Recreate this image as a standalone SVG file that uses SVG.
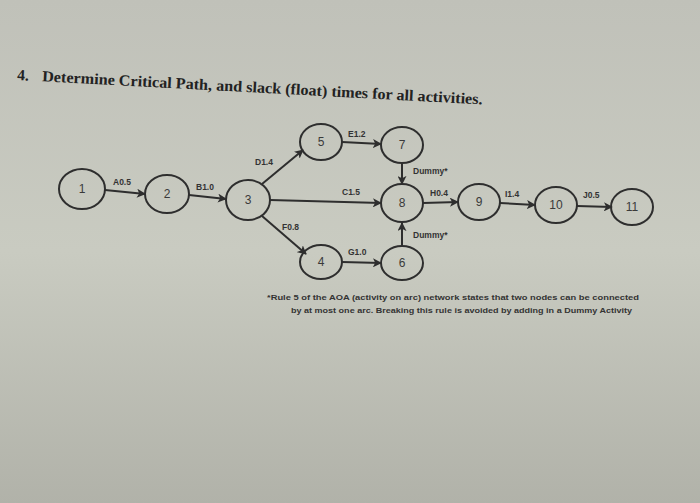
<svg xmlns="http://www.w3.org/2000/svg" width="700" height="503" viewBox="0 0 700 503">
<defs>
<linearGradient id="bg" x1="0" y1="0" x2="0" y2="1">
<stop offset="0" stop-color="#c0c1b9"/>
<stop offset="0.5" stop-color="#c9cbc1"/>
<stop offset="1" stop-color="#b1b2a9"/>
</linearGradient>
<marker id="arr" viewBox="0 0 10 10" refX="9" refY="5" markerWidth="4.5" markerHeight="4.5" orient="auto" markerUnits="strokeWidth">
<path d="M0,0 L10,5 L0,10 L2.5,5 Z" fill="#2e2e2e"/>
</marker>
<style>
.node ellipse{fill:none;stroke:#2e2e2e;stroke-width:2}
.node text{font-family:"Liberation Sans",Arial,sans-serif;font-size:12px;fill:#3a3a3a;text-anchor:middle}
.edge{stroke:#2e2e2e;stroke-width:2;fill:none;marker-end:url(#arr)}
.lbl{font-family:"Liberation Sans",Arial,sans-serif;font-size:8.5px;font-weight:bold;fill:#333}
.title{font-family:"Liberation Serif","Times New Roman",serif;font-size:15.5px;font-weight:bold;fill:#222}
.note{font-family:"Liberation Sans",Arial,sans-serif;font-size:7.5px;font-weight:bold;fill:#333}
</style>
</defs>
<rect width="700" height="503" fill="url(#bg)"/>
<g id="title" transform="rotate(3 17 80)">
<text class="title" x="17" y="80">4.</text>
<text class="title" x="42" y="80" textLength="441" lengthAdjust="spacingAndGlyphs">Determine Critical Path, and slack (float) times for all activities.</text>
</g>
<g id="connectors">
<line class="edge" x1="105" y1="190" x2="145" y2="194"/>
<line class="edge" x1="189" y1="195" x2="226" y2="199"/>
<line class="edge" x1="262" y1="184" x2="303" y2="150"/>
<line class="edge" x1="342" y1="142" x2="381" y2="144"/>
<line class="edge" x1="270" y1="200" x2="381" y2="203"/>
<line class="edge" x1="402" y1="164" x2="402" y2="184"/>
<line class="edge" x1="402" y1="245" x2="402" y2="223"/>
<line class="edge" x1="423" y1="203" x2="458" y2="202"/>
<line class="edge" x1="500" y1="203" x2="535" y2="205"/>
<line class="edge" x1="577" y1="206" x2="612" y2="207"/>
<line class="edge" x1="262" y1="216" x2="306" y2="254"/>
<line class="edge" x1="342" y1="262" x2="381" y2="263"/>
<text class="lbl" x="113" y="185">A0.5</text>
<text class="lbl" x="196" y="190">B1.0</text>
<text class="lbl" x="255" y="165">D1.4</text>
<text class="lbl" x="348" y="137">E1.2</text>
<text class="lbl" x="342" y="195">C1.5</text>
<text class="lbl" x="413" y="174">Dummy*</text>
<text class="lbl" x="430" y="196">H0.4</text>
<text class="lbl" x="505" y="197">I1.4</text>
<text class="lbl" x="583" y="198">J0.5</text>
<text class="lbl" x="413" y="238">Dummy*</text>
<text class="lbl" x="282" y="230">F0.8</text>
<text class="lbl" x="348" y="255">G1.0</text>
</g>
<g id="n1" class="node"><ellipse cx="82" cy="189" rx="23" ry="20"/><text x="82" y="193">1</text></g>
<g id="n2" class="node"><ellipse cx="167" cy="194" rx="22" ry="19"/><text x="167" y="198">2</text></g>
<g id="n3" class="node"><ellipse cx="248" cy="200" rx="22" ry="20"/><text x="248" y="204">3</text></g>
<g id="n5" class="node"><ellipse cx="321" cy="142" rx="21" ry="18"/><text x="321" y="146">5</text></g>
<g id="n7" class="node"><ellipse cx="402" cy="145" rx="21" ry="18"/><text x="402" y="149">7</text></g>
<g id="n8" class="node"><ellipse cx="402" cy="203" rx="21" ry="19"/><text x="402" y="207">8</text></g>
<g id="n4" class="node"><ellipse cx="321" cy="262" rx="21" ry="17"/><text x="321" y="266">4</text></g>
<g id="n6" class="node"><ellipse cx="402" cy="263" rx="21" ry="17"/><text x="402" y="267">6</text></g>
<g id="n9" class="node"><ellipse cx="479" cy="202" rx="21" ry="18"/><text x="479" y="206">9</text></g>
<g id="n10" class="node"><ellipse cx="556" cy="205" rx="21" ry="18"/><text x="556" y="209">10</text></g>
<g id="n11" class="node"><ellipse cx="632" cy="207" rx="21" ry="18"/><text x="632" y="211">11</text></g>
<g id="footnote">
<text class="note" x="267" y="300" textLength="372" lengthAdjust="spacingAndGlyphs">*Rule 5 of the AOA (activity on arc) network  states that two nodes  can be connected</text>
<text class="note" x="291" y="313" textLength="341" lengthAdjust="spacingAndGlyphs">by at most one arc. Breaking this rule is avoided by adding in a Dummy Activity</text>
</g>
</svg>
